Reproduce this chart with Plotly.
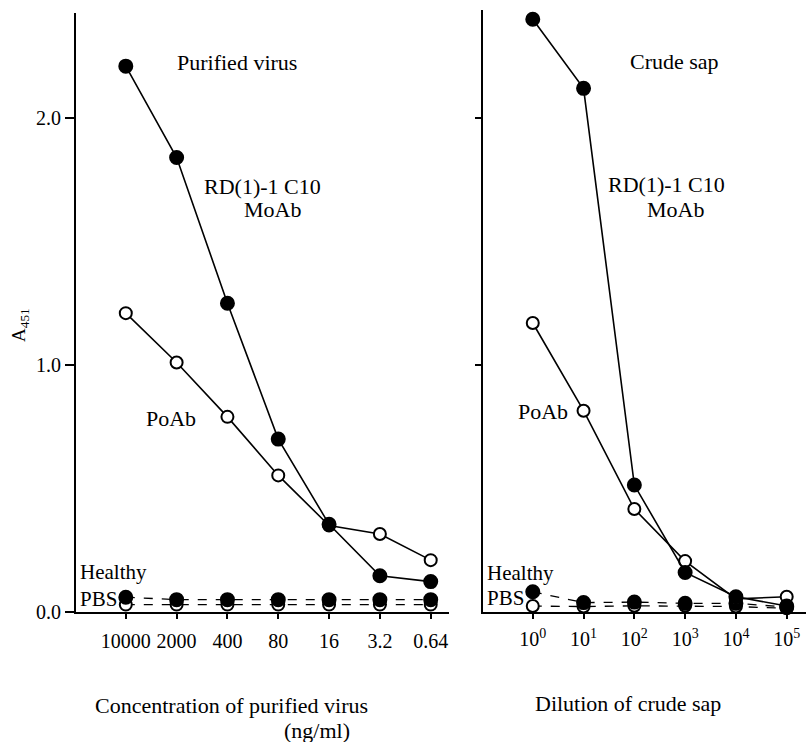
import plotly.graph_objects as go

W, H = 806, 742

# ---- data ----
conc_labels = ["10000", "2000", "400", "80", "16", "3.2", "0.64"]
pv_moab = [2.21, 1.84, 1.25, 0.70, 0.355, 0.147, 0.123]
pv_poab = [1.21, 1.01, 0.79, 0.553, 0.35, 0.316, 0.21]
pv_healthy = [0.06, 0.05, 0.05, 0.05, 0.05, 0.05, 0.05]
pv_pbs = [0.03, 0.03, 0.03, 0.03, 0.03, 0.03, 0.03]

dil_labels = ["10<sup>0</sup>", "10<sup>1</sup>", "10<sup>2</sup>", "10<sup>3</sup>", "10<sup>4</sup>", "10<sup>5</sup>"]
cs_moab = [2.40, 2.12, 0.514, 0.16, 0.062, 0.024]
cs_poab = [1.17, 0.815, 0.417, 0.206, 0.053, 0.062]
cs_healthy = [0.082, 0.038, 0.04, 0.035, 0.035, 0.02]
cs_pbs = [0.024, 0.022, 0.025, 0.025, 0.022, 0.015]

FONT = "Liberation Serif"

def px(x):
    return x / W

def py(y):
    return 1 - y / H

fig = go.Figure()

def add_series(xref, yref, xs, ys, filled, dashed):
    fig.add_trace(go.Scatter(
        x=xs, y=ys, xaxis=xref, yaxis=yref, mode="lines+markers",
        line=dict(color="black", width=1.6 if not dashed else 1.3,
                  dash="dash" if dashed else "solid"),
        marker=dict(symbol="circle", size=13 if filled else 12,
                    color="black" if filled else "white",
                    line=dict(color="black", width=2)),
        cliponaxis=False, showlegend=False, hoverinfo="skip"))

xl = list(range(len(conc_labels)))
xr = list(range(len(dil_labels)))

# left panel: PBS (open) beneath Healthy (filled)
add_series("x", "y", xl, pv_pbs, False, True)
add_series("x", "y", xl, pv_healthy, True, True)
add_series("x", "y", xl, pv_poab, False, False)
add_series("x", "y", xl, pv_moab, True, False)

add_series("x2", "y2", xr, cs_pbs, False, True)
add_series("x2", "y2", xr, cs_healthy, True, True)
add_series("x2", "y2", xr, cs_poab, False, False)
add_series("x2", "y2", xr, cs_moab, True, False)

axis_common = dict(showgrid=False, zeroline=False, showline=True,
                   linecolor="black", linewidth=2, ticks="outside",
                   tickcolor="black", tickwidth=1.5, automargin=False,
                   tickfont=dict(family=FONT, size=20, color="black"))

fig.update_layout(
    width=W, height=H, margin=dict(l=0, r=0, t=0, b=0, autoexpand=False),
    paper_bgcolor="white", plot_bgcolor="white",
    xaxis=dict(domain=[px(76), px(449)], range=[-0.98, 6.36],
               tickvals=xl, ticktext=conc_labels, anchor="y",
               ticklen=5, ticklabelstandoff=5, **axis_common),
    yaxis=dict(domain=[py(612), py(13)], range=[0, 599 / 247],
               tickvals=[0, 1, 2], ticktext=["0.0", "1.0", "2.0"], anchor="x",
               ticklen=9, **axis_common),
    xaxis2=dict(domain=[px(483), 1.0], range=[-0.98, 5.38],
                tickvals=xr, ticktext=dil_labels, anchor="y2",
                ticklen=5, ticklabelstandoff=3, **axis_common),
    yaxis2=dict(domain=[py(612), py(10)], range=[0, 602 / 247],
                tickvals=[1, 2], showticklabels=False, anchor="x2",
                ticklen=6, **axis_common),
)

def ann(text, x, y, xanchor="center", size=22):
    fig.add_annotation(text=text, x=px(x), y=py(y), xref="paper", yref="paper",
                       xanchor=xanchor, yanchor="middle", showarrow=False,
                       font=dict(family=FONT, size=size, color="black"))

ann("Purified virus", 237, 63)
ann("RD(1)-1 C10", 262, 186)
ann("MoAb", 272, 210)
ann("PoAb", 171, 418)
ann("Healthy", 78, 572, "left", 21)
ann("PBS", 78, 599, "left", 21)

ann("Crude sap", 674, 61)
ann("RD(1)-1 C10", 666, 185)
ann("MoAb", 675, 210)
ann("PoAb", 543, 411)
ann("Healthy", 485, 573, "left", 21)
ann("PBS", 485, 598, "left", 21)

ann("Concentration of purified virus", 231, 705)
ann("(ng/ml)", 317, 730)
ann("Dilution of crude sap", 628, 703)

fig.add_annotation(text="A<sub>451</sub>", x=px(20), y=py(325), xref="paper", yref="paper",
                   showarrow=False, textangle=-90, xanchor="center", yanchor="middle",
                   font=dict(family=FONT, size=19, color="black"))

fig.write_html("out.html", config={"displayModeBar": False},
               post_script="document.body.style.margin='0';document.body.style.overflow='hidden';")
